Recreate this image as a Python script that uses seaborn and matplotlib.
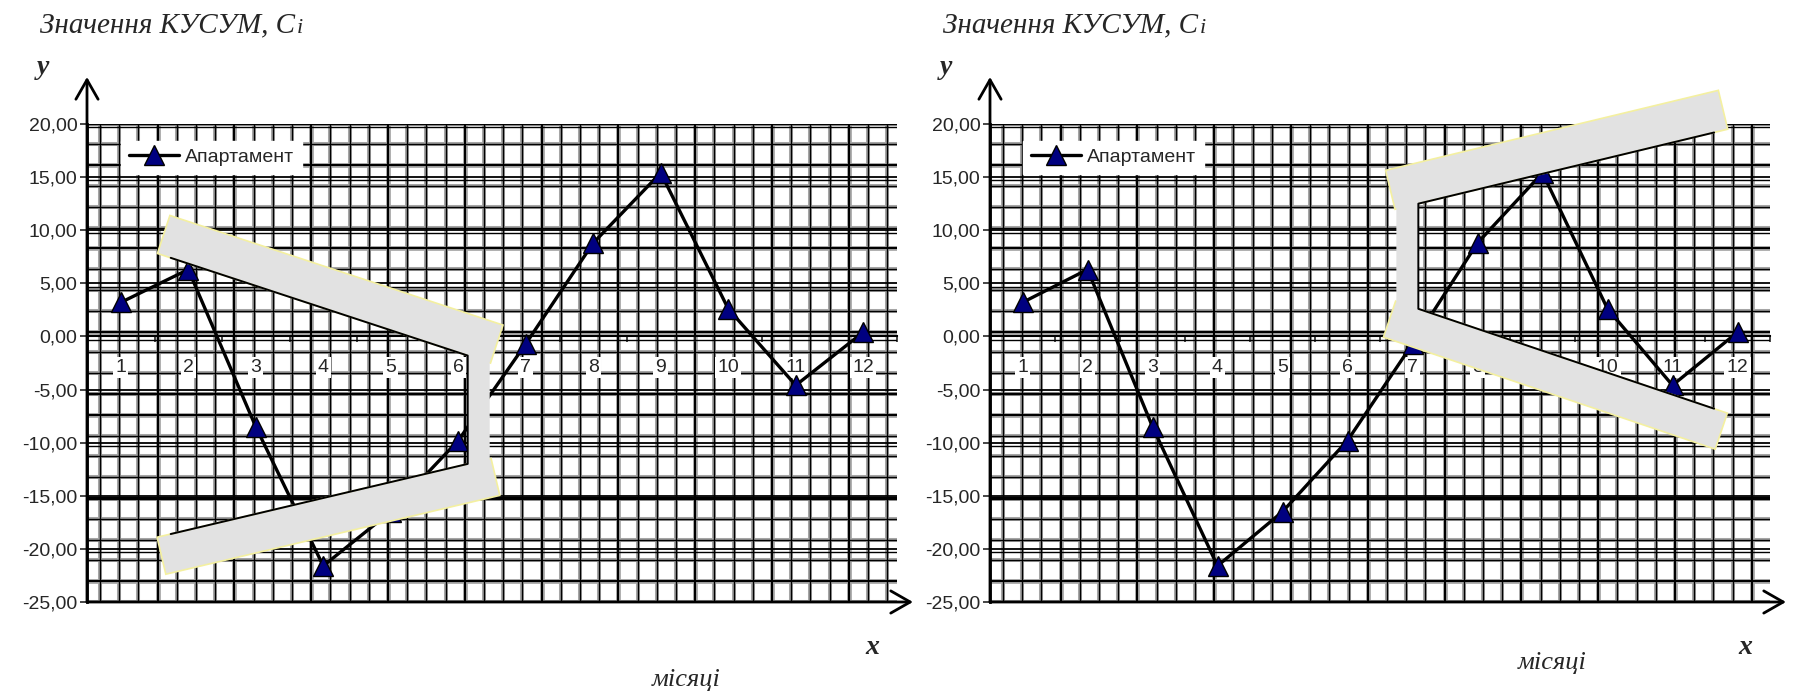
import numpy as np
import matplotlib
matplotlib.use("Agg")
import matplotlib.pyplot as plt
from matplotlib.patches import Polygon
from matplotlib.transforms import IdentityTransform
import seaborn as sns

# CUSUM values per month
months = list(range(1, 13))
cusum = [3.2, 6.3, -8.5, -21.6, -16.5, -9.8, -0.7, 8.8, 15.4, 2.6, -4.6, 0.4]
series_name = "Апартамент"
y_ticks = [-25, -20, -15, -10, -5, 0, 5, 10, 15, 20]

# V-mask outlines: vertex x, arm far end x, upper arm y (vertex, end), lower arm y (vertex, end)
left_mask_x = [6.14, 1.74]
left_mask_top = [-1.8, 7.4]
left_mask_bot = [-12.0, -18.6]
right_mask_x = [7.09, 11.64]
right_mask_top = [12.5, 19.2]
right_mask_bot = [2.6, -6.8]

title_text = "Значення КУСУМ, C"
xlabel_text = "місяці"

sns.set_style("white")
plt.rcParams["font.family"] = ["Liberation Sans", "DejaVu Sans"]

W, H = 1795, 696
fig = plt.figure(figsize=(W / 100, H / 100), dpi=100)

BAND_FC = "#e2e2e2"
BAND_EC = "#f4f0a0"


def paper_grid(ax, width_px, height_px):
    # graph-paper background
    xs = np.arange(13, width_px, 19.2) / width_px
    ys = np.arange(0, height_px + 1, 20.8) / height_px
    for i, x in enumerate(xs):
        lw = 1.5 if i % 4 == 3 else 1.0
        ax.vlines(x, 0, 1, transform=ax.transAxes, color="#a5a5a5", lw=lw + 1.9, zorder=0.4)
        ax.vlines(x, 0, 1, transform=ax.transAxes, color="black", lw=lw, zorder=0.5)
    for i, y in enumerate(ys):
        lw = 1.5 if i % 4 == 1 else 1.0
        ax.hlines(y, 0, 1, transform=ax.transAxes, color="#a5a5a5", lw=lw + 1.9, zorder=0.4)
        ax.hlines(y, 0, 1, transform=ax.transAxes, color="black", lw=lw, zorder=0.5)
    for v in y_ticks:
        ax.axhline(v, color="black", lw=1.3, zorder=0.6)
        ax.axhline(v - 0.3, color="black", lw=1.0, zorder=0.6)


def band(ax, p0, p1, thick, up, ext0, ext1):
    a = ax.transData.transform(p0)
    b = ax.transData.transform(p1)
    u = (b - a) / np.hypot(*(b - a))
    n = np.array([-u[1], u[0]])
    if (n[1] > 0) != up:
        n = -n
    a2 = a - u * ext0
    b2 = b + u * ext1
    pts = [a2, b2, b2 + n * thick, a2 + n * thick]
    ax.add_patch(Polygon(pts, closed=True, transform=IdentityTransform(),
                         fc=BAND_FC, ec=BAND_EC, lw=1.2, zorder=5, clip_on=False))


def vmask(ax, mx, mtop, mbot, side):
    vx = mx[0]
    band(ax, (vx, mtop[0]), (mx[1], mtop[1]), 40, True, 24, 14)
    band(ax, (vx, mbot[0]), (mx[1], mbot[1]), 38, False, 24, 14)
    # vertical strip at the vertex
    t = ax.transData.transform([(vx, mtop[0]), (vx, mbot[0])])
    x0 = t[0][0]
    x1 = x0 + 22 * side
    pts = [(x0, t[0][1] + 10), (x1, t[0][1] + 18), (x1, t[1][1] - 18), (x0, t[1][1] - 10)]
    ax.add_patch(Polygon(pts, closed=True, transform=IdentityTransform(),
                         fc=BAND_FC, ec="none", zorder=5.1, clip_on=False))
    ax.plot([mx[1], vx, vx, mx[1]], [mtop[1], mtop[0], mbot[0], mbot[1]],
            color="black", lw=1.4, zorder=6, clip_on=False)


def panel(left_px, width_px, mx, mtop, mbot, side, xlab_pos):
    bottom_px, height_px = 94, 478
    ax = fig.add_axes([left_px / W, bottom_px / H, width_px / W, height_px / H])
    ax.set_xlim(0.5, 12.5)
    ax.set_ylim(-25, 20)
    paper_grid(ax, width_px, height_px)

    sns.lineplot(x=months, y=cusum, ax=ax, color="black", lw=2.4,
                 marker="^", markersize=15, markerfacecolor="#000080",
                 markeredgecolor="black", markeredgewidth=1.0,
                 label=series_name, zorder=3)

    ax.spines["top"].set_visible(False)
    ax.spines["right"].set_visible(False)
    ax.spines["left"].set_linewidth(2)
    ax.spines["left"].set_color("black")
    ax.spines["bottom"].set_position(("data", 0))
    ax.spines["bottom"].set_linewidth(1.5)
    ax.spines["bottom"].set_color("black")

    ax.set_yticks(y_ticks)
    ax.set_yticklabels([f"{v:.2f}".replace(".", ",") for v in y_ticks])
    ax.tick_params(axis="y", direction="out", length=5, width=1.2, pad=2,
                   labelsize=14, left=True)
    ax.set_xticks(np.arange(0.5, 13, 1))
    ax.set_xticklabels([])
    ax.set_xticks(months, minor=True)
    ax.set_xticklabels([str(m) for m in months], minor=True)
    ax.tick_params(axis="x", which="major", direction="out", length=4, width=1.2, bottom=True)
    ax.tick_params(axis="x", which="minor", length=0, pad=16, labelsize=14)
    for lbl in ax.get_xticklabels(minor=True):
        lbl.set_bbox(dict(fc="white", ec="none", pad=1.5))
    ax.set_xlabel("")
    ax.set_ylabel("")

    leg = ax.legend(loc="upper left", bbox_to_anchor=(0.03, 0.985), fontsize=14,
                    frameon=True, fancybox=False, handlelength=2.6,
                    borderpad=0.4, handletextpad=0.3)
    leg.get_frame().set_edgecolor("white")
    leg.get_frame().set_facecolor("white")
    leg.get_frame().set_alpha(1)
    leg.set_zorder(7)

    vmask(ax, mx, mtop, mbot, side)

    # axis arrows
    arr = dict(arrowstyle="->,head_length=0.7,head_width=0.4", color="black",
               lw=2, mutation_scale=20, shrinkA=0, shrinkB=0)
    ax.annotate("", xy=(0, 1 + 47 / height_px), xytext=(0, 0), xycoords="axes fraction",
                arrowprops=arr, annotation_clip=False)
    ax.annotate("", xy=(1 + 16 / width_px, 0), xytext=(0, 0), xycoords="axes fraction",
                arrowprops=arr, annotation_clip=False)

    fig.text((left_px - 44) / W, 1 - 68 / H, "y", fontsize=20, fontweight="bold",
             style="italic", family="Liberation Serif", ha="center", va="center")
    fig.text((left_px + width_px - 25) / W, 1 - 647 / H, "x", fontsize=20,
             fontweight="bold", style="italic", family="Liberation Serif",
             ha="center", va="center")
    fig.text(xlab_pos[0] / W, 1 - xlab_pos[1] / H, xlabel_text, fontsize=19,
             style="italic", family="Liberation Serif", ha="center", va="center")

    base_y = 1 - 32 / H
    t = fig.text((left_px - 47) / W, base_y, title_text, fontsize=21,
                 style="italic", family="Liberation Serif", ha="left", va="baseline")
    ax.annotate("i", xy=(1, base_y), xycoords=(t, "figure fraction"),
                xytext=(1, -1), textcoords="offset points",
                fontsize=16, style="italic", family="Liberation Serif",
                ha="left", va="baseline", annotation_clip=False)
    return ax


panel(87, 810, left_mask_x, left_mask_top, left_mask_bot, 1, (686, 680))
panel(990, 780, right_mask_x, right_mask_top, right_mask_bot, -1, (1552, 663))

fig.savefig("out.png", dpi=100, facecolor="white")
